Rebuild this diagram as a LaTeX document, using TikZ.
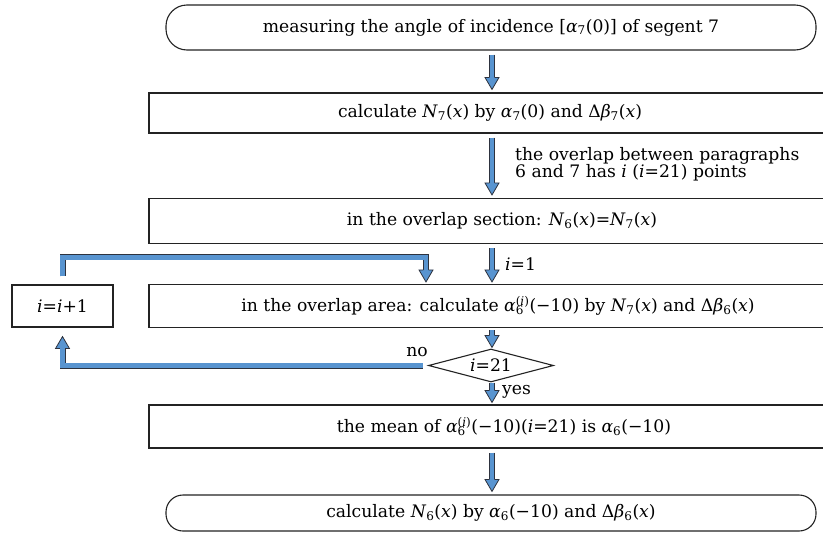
\documentclass[tikz,border=0pt]{standalone}
\usepackage{fontspec}
\setmainfont{DejaVu Serif}
\usetikzlibrary{shapes.geometric,calc}
\definecolor{ablue}{RGB}{88,148,208}
\definecolor{aline}{RGB}{45,50,62}
\definecolor{bline}{RGB}{35,35,35}
\newcommand\fs{\fontsize{17.2}{20}\selectfont}
\newcommand\mi[1]{\textit{#1}}
\newcommand\sbs[1]{\textsubscript{#1}}
\newcommand\supsub[2]{\setbox0\hbox{\textsuperscript{#1}}\setbox2\hbox{\textsubscript{#2}}%
  \ifdim\wd0>\wd2 \rlap{\box2}\box0 \else\rlap{\box0}\box2 \fi}
\newcommand\alsi{\textit{α}\supsub{(\textit{i})}{6}}
\newcommand\headdown[1]{\filldraw[head] ($(#1)+(-2.6,12)$) -- ($(#1)+(-7,12)$) -- (#1) -- ($(#1)+(7,12)$) -- ($(#1)+(2.6,12)$);}
\newcommand\headup[1]{\filldraw[head] ($(#1)+(-2.6,-12)$) -- ($(#1)+(-7,-12)$) -- (#1) -- ($(#1)+(7,-12)$) -- ($(#1)+(2.6,-12)$);}
\begin{document}
\begin{tikzpicture}[x=1pt,y=1pt,
  box/.style={draw=bline, line width=1.1pt, inner sep=0pt, font=\fs},
  rbox/.style={box, rounded corners=21pt, minimum width=650, minimum height=45},
  lab/.style={inner sep=0pt, font=\fs, align=left},
  shaft/.style={draw=aline, line width=0.8pt, double=ablue, double distance=4.4pt, line join=miter},
  head/.style={fill=ablue, draw=aline, line width=0.8pt, line join=miter}]
\useasboundingbox (0,0) rectangle (823,-536);
\clip (0,0) rectangle (823,-536);
\fill[white] (0,0) rectangle (823,-536);
\coordinate (col) at (492,0);
% nodes (rectangles start at x=149 and run past the right edge)
\node[rbox] (b1) at (491,-27.5) {measuring the angle of incidence [\mi{α}\sbs{7}(0)] of segent 7};
\node[box, minimum width=682, minimum height=40] (b2) at (490,-113) {calculate \mi{N}\sbs{7}(\mi{x}) by \mi{α}\sbs{7}(0) and Δ\mi{β}\sbs{7}(\mi{x})};
\node[box, minimum width=706, minimum height=45] (b3) at (502,-221) {in the overlap section: \mi{N}\sbs{6}(\mi{x})=\mi{N}\sbs{7}(\mi{x})};
\node[box, minimum width=698, minimum height=43] (b4) at (498,-306) {in the overlap area: calculate \alsi(−10) by \mi{N}\sbs{7}(\mi{x}) and Δ\mi{β}\sbs{6}(\mi{x})};
\node[box, minimum width=101, minimum height=42] (inc) at (62.5,-306) {\mi{i}=\mi{i}+1};
\node[box, diamond, aspect=3.8, minimum width=125, minimum height=33] (dia) at (491,-365.5) {\mi{i}=21};
\node[box, minimum width=710, minimum height=43] (b5) at (504,-426.5) {the mean of \alsi(−10)(\mi{i}=21) is \mi{α}\sbs{6}(−10)};
\node[rbox, minimum height=36, rounded corners=17pt] (b6) at (491,-513) {calculate \mi{N}\sbs{6}(\mi{x}) by \mi{α}\sbs{6}(−10) and Δ\mi{β}\sbs{6}(\mi{x})};
% labels
\node[lab, anchor=west] (l2) at (515,-164) {the overlap between paragraphs\\[-3pt]6 and 7 has \mi{i} (\mi{i}=21) points};
\node[lab, anchor=west] (l3) at (505,-264) {\mi{i}=1};
\node[lab, anchor=west] (lyes) at (502,-392) {yes};
\node[lab, anchor=east] (lno) at (428,-352) {no};
% main arrows
\coordinate (a1s) at ($(b1.south -| col)+(0,-4)$);
\coordinate (a1t) at ($(b2.north -| col)+(0,3)$);
\draw[shaft] (a1s) -- ($(a1t)+(0,11.5)$); \headdown{a1t}
\coordinate (a2s) at ($(b2.south -| col)+(0,-4)$);
\coordinate (a2t) at ($(b3.north -| col)+(0,3)$);
\draw[shaft] (a2s) -- ($(a2t)+(0,11.5)$); \headdown{a2t}
\coordinate (a3s) at ($(b3.south -| col)+(0,-4)$);
\coordinate (a3t) at ($(b4.north -| col)+(0,2)$);
\draw[shaft] (a3s) -- ($(a3t)+(0,11.5)$); \headdown{a3t}
\coordinate (a4s) at ($(b4.south -| col)+(0,-2)$);
\coordinate (a4t) at ($(dia.north -| col)+(0,1)$);
\draw[shaft] (a4s) -- ($(a4t)+(0,11.5)$); \headdown{a4t}
\coordinate (a5s) at ($(dia.south -| col)+(0,0)$);
\coordinate (a5t) at ($(b5.north -| col)+(0,2)$);
\draw[shaft] (a5s) -- ($(a5t)+(0,11.5)$); \headdown{a5t}
\coordinate (a6s) at ($(b5.south -| col)+(0,-4)$);
\coordinate (a6t) at ($(b6.north -| col)+(0,3)$);
\draw[shaft] (a6s) -- ($(a6t)+(0,11.5)$); \headdown{a6t}
% feedback: increment back to loop box
\coordinate (f1s) at ($(inc.north)+(0,8)$);
\coordinate (f1t) at ($(b4.north -| 426,0)+(0,2)$);
\draw[shaft] (f1s) -- ($(inc.north)+(0,27)$) -| ($(f1t)+(0,11.5)$); \headdown{f1t}
% feedback: no branch
\coordinate (f2s) at ($(dia.west)+(-5,0)$);
\coordinate (f2t) at ($(inc.south)+(0,-9)$);
\draw[shaft] (f2s) -| ($(f2t)+(0,-11.5)$); \headup{f2t}
\end{tikzpicture}
\end{document}
